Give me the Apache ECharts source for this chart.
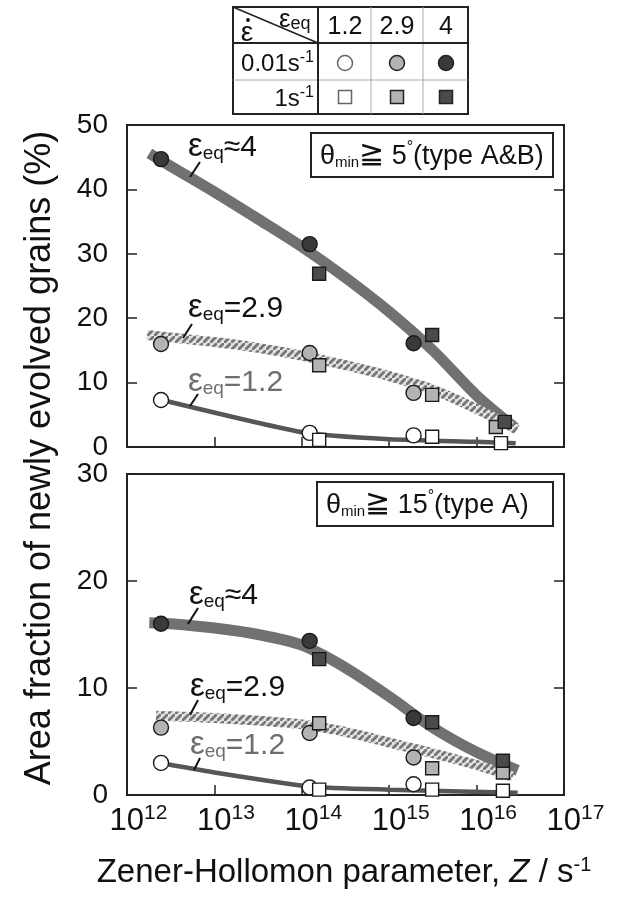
<!DOCTYPE html>
<html><head><meta charset="utf-8">
<script src="https://cdn.jsdelivr.net/npm/echarts@6/dist/echarts.min.js"></script>
<style>html,body{margin:0;padding:0;background:#fff}#c{width:623px;height:899px}</style>
</head><body><div id="c"></div>
<script>
const FONT = '"Liberation Sans", Arial, Helvetica, sans-serif';

// ---------- data ----------
// Zener-Hollomon parameter of the measured points
const zCircle = [2.45e12, 1.23e14, 1.9e15];      // 0.01 s^-1
const zSquareTop = {e12: [1.58e14, 3.1e15, 1.9e16], e29: [1.58e14, 3.1e15, 1.66e16], e4: [1.58e14, 3.1e15, 2.1e16]};
const zSquareBot = [1.58e14, 3.1e15, 2.0e16];   // 1 s^-1

// top panel: theta_min >= 5 deg (type A&B)
const topCircle12 = [7.3, 2.2, 1.8];
const topSquare12 = [1.1, 1.6, 0.6];
const topCircle29 = [16.0, 14.6, 8.4];
const topSquare29 = [12.7, 8.1, 3.1];
const topCircle4  = [44.7, 31.5, 16.1];
const topSquare4  = [26.9, 17.4, 3.9];

// bottom panel: theta_min >= 15 deg (type A)
const botCircle12 = [3.0, 0.7, 1.0];
const botSquare12 = [0.5, 0.5, 0.4];
const botCircle29 = [6.3, 5.8, 3.5];
const botSquare29 = [6.7, 2.5, 2.1];
const botCircle4  = [16.0, 14.4, 7.2];
const botSquare4  = [12.7, 6.8, 3.2];

// guide curves
const topCurve4  = [[1.8e12,45.6],[3.16e12,43.6],[1e13,39.6],[3.16e13,35.4],[1e14,31.1],[3.16e14,26.3],
                    [1e15,21.0],[3.16e15,15.0],[1e16,8.0],[2.75e16,3.0]];
const topCurve29 = [[1.7e12,17.4],[3.16e12,17.0],[1e13,16.3],[3.16e13,15.4],[1e14,14.2],[3.16e14,12.7],
                    [1e15,11.0],[3.16e15,8.9],[1e16,5.9],[2.9e16,2.7]];
const topCurve12 = [[2.2e12,7.5],[1.1e14,2.2],[1e15,1.2],[1e16,0.8],[2.8e16,0.6]];
const botCurve4  = [[1.8e12,16.1],[3.16e12,16.0],[1e13,15.6],[3.16e13,15.0],[1e14,14.0],[3.16e14,11.9],
                    [1e15,9.2],[3.16e15,6.3],[1e16,4.0],[2.95e16,2.3]];
const botCurve29 = [[2.15e12,7.4],[3.16e12,7.35],[1e13,7.2],[3.16e13,6.95],[1e14,6.6],[3.16e14,5.9],
                    [1e15,4.9],[3.16e15,3.9],[1e16,2.8],[2.6e16,1.7]];
const botCurve12 = [[2e12,3.1],[1e13,2.1],[1.2e14,0.8],[1e15,0.5],[2.95e16,0.2]];

const yTicksTop = [0, 10, 20, 30, 40, 50];
const yTicksBot = [0, 10, 20, 30];
const xExponents = [12, 13, 14, 15, 16, 17];

// ---------- helpers ----------
function pts(xs, ys) { return xs.map((x, i) => [x, ys[i]]); }

const hatch = document.createElement('canvas');
hatch.width = 7; hatch.height = 7;
(function () {
  const c = hatch.getContext('2d');
  c.fillStyle = '#e2e2e2'; c.fillRect(0, 0, 7, 7);
  c.strokeStyle = '#767676'; c.lineWidth = 2.8;
  c.beginPath();
  c.moveTo(-1, 8); c.lineTo(8, -1);
  c.moveTo(-8, 6); c.lineTo(6, -8);
  c.moveTo(1, 15); c.lineTo(15, 1);
  c.stroke();
})();
const hatchPattern = {image: hatch, repeat: 'repeat'};

const FILL = {e12: '#ffffff', e29: '#b3b3b3', e4: '#3a3a3a'};
const SQFILL = {e12: '#ffffff', e29: '#b3b3b3', e4: '#4a4a4a'};

function lineSeries(idx, data, style) {
  return {type: 'line', xAxisIndex: idx, yAxisIndex: idx * 2, data: data, symbol: 'none',
    smooth: style.smooth, silent: true, z: 2, lineStyle: style.ls, animation: false};
}
function scat(idx, data, shape, fill) {
  return {type: 'scatter', xAxisIndex: idx, yAxisIndex: idx * 2, data: data, symbol: shape,
    symbolSize: shape === 'circle' ? 15 : 13, z: 3, animation: false,
    itemStyle: {color: fill, borderColor: '#1a1a1a', borderWidth: 1.4, opacity: 1}};
}

const grids = [
  {left: 127, top: 125, width: 437, height: 322, show: true, borderColor: '#222', borderWidth: 2, backgroundColor: 'transparent'},
  {left: 127, top: 474, width: 437, height: 321, show: true, borderColor: '#222', borderWidth: 2, backgroundColor: 'transparent'}
];

function xAxis(idx, showLabels) {
  return {type: 'log', logBase: 10, gridIndex: idx, min: 1e12, max: 1e17, position: 'bottom',
    axisLine: {show: false}, splitLine: {show: false},
    axisTick: {show: true, inside: true, length: 10, lineStyle: {color: '#222', width: 1.5}},
    axisLabel: {show: showLabels, margin: 8, showMinLabel: true, showMaxLabel: true,
      formatter: v => '{p|}{b|10}{s|' + Math.round(Math.log10(v)) + '}',
      rich: {
        p: {width: 23, height: 10},
        b: {fontSize: 31, fontFamily: FONT, color: '#111', lineHeight: 34, verticalAlign: 'bottom'},
        s: {fontSize: 21, fontFamily: FONT, color: '#111', lineHeight: 22, verticalAlign: 'top'}
      }}};
}
function yAxis(idx, max, right) {
  return {type: 'value', gridIndex: idx, min: 0, max: max, interval: 10, position: right ? 'right' : 'left',
    axisLine: {show: false}, splitLine: {show: false},
    axisTick: {show: true, inside: true, length: 10, lineStyle: {color: '#222', width: 1.5}},
    axisLabel: {show: !right, margin: 19, fontSize: 28, fontFamily: FONT, color: '#111',
      showMinLabel: true, showMaxLabel: true}};
}

const series = [
  lineSeries(0, topCurve4, {smooth: 0.3, ls: {color: '#717171', width: 11}}),
  lineSeries(0, topCurve29, {smooth: 0.3, ls: {color: hatchPattern, width: 10}}),
  lineSeries(0, topCurve12, {smooth: 0.2, ls: {color: '#565656', width: 4.5}}),
  lineSeries(1, botCurve4, {smooth: 0.3, ls: {color: '#717171', width: 11}}),
  lineSeries(1, botCurve29, {smooth: 0.3, ls: {color: hatchPattern, width: 10}}),
  lineSeries(1, botCurve12, {smooth: 0.2, ls: {color: '#565656', width: 4.5}}),

  scat(0, pts(zCircle, topCircle12), 'circle', FILL.e12),
  scat(0, pts(zCircle, topCircle29), 'circle', FILL.e29),
  scat(0, pts(zCircle, topCircle4), 'circle', FILL.e4),
  scat(0, pts(zSquareTop.e12, topSquare12), 'rect', SQFILL.e12),
  scat(0, pts(zSquareTop.e29, topSquare29), 'rect', SQFILL.e29),
  scat(0, pts(zSquareTop.e4, topSquare4), 'rect', SQFILL.e4),

  scat(1, pts(zCircle, botCircle12), 'circle', FILL.e12),
  scat(1, pts(zCircle, botCircle29), 'circle', FILL.e29),
  scat(1, pts(zCircle, botCircle4), 'circle', FILL.e4),
  scat(1, pts(zSquareBot, botSquare12), 'rect', SQFILL.e12),
  scat(1, pts(zSquareBot, botSquare29), 'rect', SQFILL.e29),
  scat(1, pts(zSquareBot, botSquare4), 'rect', SQFILL.e4)
];

// ---------- annotations ----------
const G = [];
function txt(x, y, text, rich, opt) {
  G.push(Object.assign({type: 'text', x: x, y: y, z: 10, silent: true,
    style: Object.assign({text: text, rich: rich, fontFamily: FONT, fill: '#111'}, opt || {})}));
}
function seg(x1, y1, x2, y2, color, w) {
  G.push({type: 'line', z: 10, silent: true, shape: {x1: x1, y1: y1, x2: x2, y2: y2},
    style: {stroke: color || '#111', lineWidth: w || 2}});
}

// curve labels
function epsLabel(x, yTop, rest, color) {
  txt(x, yTop, '{e|ε}{q|eq}{v|' + rest + '}', {
    e: {fontSize: 33, fontFamily: FONT, fill: color, lineHeight: 36, verticalAlign: 'bottom'},
    q: {fontSize: 19, fontFamily: FONT, fill: color, lineHeight: 12, verticalAlign: 'bottom'},
    v: {fontSize: 30, fontFamily: FONT, fill: color, lineHeight: 36, verticalAlign: 'bottom'}
  }, {align: 'left', verticalAlign: 'top'});
}
epsLabel(188, 127, '≈4', '#111');
epsLabel(188, 288, '=2.9', '#111');
epsLabel(188, 362, '=1.2', '#6e6e6e');
epsLabel(189, 575, '≈4', '#111');
epsLabel(190, 667, '=2.9', '#111');
epsLabel(190, 725, '=1.2', '#6e6e6e');
seg(200, 162, 190, 177); seg(192, 324, 183, 338); seg(198, 394, 190, 406);
seg(198, 608, 188, 624); seg(198, 700, 190, 715); seg(200, 758, 194, 770);

// condition boxes
function condBox(x, y, w, h, deg, type) {
  G.push({type: 'rect', z: 10, silent: true, shape: {x: x, y: y, width: w, height: h},
    style: {fill: '#fff', stroke: '#222', lineWidth: 2}});
  txt(x + 9, y + h / 2, '{t|θ}{s|min}{g|≧}{t| ' + deg + '}{d|°}{t|(type ' + type + ')}', {
    t: {fontSize: 27, fontFamily: FONT, fill: '#111', lineHeight: 30, verticalAlign: 'bottom'},
    g: {fontSize: 30, fontFamily: FONT, fill: '#111', lineHeight: 30, verticalAlign: 'bottom'},
    s: {fontSize: 15, fontFamily: FONT, fill: '#111', lineHeight: 8, verticalAlign: 'bottom'},
    d: {fontSize: 16, fontFamily: FONT, fill: '#111', lineHeight: 20, verticalAlign: 'top'}
  }, {align: 'left', verticalAlign: 'middle'});
}
condBox(311, 133, 242, 44, '5', 'A&B');
condBox(317, 482, 236, 44, '15', 'A');

// legend table
G.push({type: 'rect', z: 10, silent: true, shape: {x: 233, y: 7, width: 235, height: 107},
  style: {fill: '#fff', stroke: '#222', lineWidth: 2}});
seg(233, 80, 468, 80, '#aaa', 1);
seg(371, 7, 371, 114, '#aaa', 1);
seg(423, 7, 423, 114, '#aaa', 1);
seg(318, 7, 318, 114, '#222', 2);
seg(233, 43, 468, 43, '#222', 2);
seg(233, 7, 318, 43, '#222', 1.5);
txt(247, 33, '{a|ε}', {a: {fontSize: 28, fontFamily: FONT, fill: '#111'}}, {align: 'center', verticalAlign: 'middle'});
G.push({type: 'circle', z: 11, silent: true, shape: {cx: 248, cy: 20, r: 1.9}, style: {fill: '#111'}});
txt(279, 9, '{e|ε}{q|eq}', {
  e: {fontSize: 26, fontFamily: FONT, fill: '#111', lineHeight: 24, verticalAlign: 'bottom'},
  q: {fontSize: 18, fontFamily: FONT, fill: '#111', lineHeight: 10, verticalAlign: 'bottom'}
}, {align: 'left', verticalAlign: 'top'});
const legendHeads = ['1.2', '2.9', '4'];
const legendCols = [345, 397, 446];
legendHeads.forEach((h, i) => txt(legendCols[i], 27, h, null,
  {fontSize: 25, align: 'center', verticalAlign: 'middle'}));
const legendRows = [['0.01s', 63], ['1s', 98]];
legendRows.forEach(r => txt(314, r[1], '{b|' + r[0] + '}{s|-1}', {
  b: {fontSize: 24, fontFamily: FONT, fill: '#111', lineHeight: 26, verticalAlign: 'bottom'},
  s: {fontSize: 16, fontFamily: FONT, fill: '#111', lineHeight: 14, verticalAlign: 'top'}
}, {align: 'right', verticalAlign: 'middle'}));
const legFill = [FILL.e12, FILL.e29, FILL.e4];
const legSq = [SQFILL.e12, SQFILL.e29, SQFILL.e4];
legendCols.forEach((cx, i) => {
  G.push({type: 'circle', z: 11, silent: true, shape: {cx: cx, cy: 63, r: 7.5},
    style: {fill: legFill[i], stroke: i === 0 ? '#666' : '#222', lineWidth: 1.5}});
  G.push({type: 'rect', z: 11, silent: true, shape: {x: cx - 6.5, y: 90.5, width: 13, height: 13},
    style: {fill: legSq[i], stroke: i === 0 ? '#666' : '#222', lineWidth: 1.5}});
});

// axis titles
txt(40, 458, 'Area fraction of newly evolved grains (%)', null,
  {fontSize: 36, align: 'center', verticalAlign: 'middle'});
G[G.length - 1].rotation = Math.PI / 2;
txt(344, 872, '{t|Zener-Hollomon parameter, }{i|Z}{t| / s}{s|-1}', {
  t: {fontSize: 33, fontFamily: FONT, fill: '#111', lineHeight: 34, verticalAlign: 'bottom'},
  i: {fontSize: 33, fontFamily: FONT, fontStyle: 'italic', fill: '#111', lineHeight: 34, verticalAlign: 'bottom'},
  s: {fontSize: 20, fontFamily: FONT, fill: '#111', lineHeight: 20, verticalAlign: 'top'}
}, {align: 'center', verticalAlign: 'middle'});

const chart = echarts.init(document.getElementById('c'), null, {renderer: 'canvas'});
chart.setOption({
  animation: false,
  backgroundColor: '#fff',
  textStyle: {fontFamily: FONT},
  grid: grids,
  xAxis: [xAxis(0, false), xAxis(1, true)],
  yAxis: [yAxis(0, 50, false), yAxis(0, 50, true), yAxis(1, 30, false), yAxis(1, 30, true)],
  series: series,
  graphic: G
});
</script></body></html>
